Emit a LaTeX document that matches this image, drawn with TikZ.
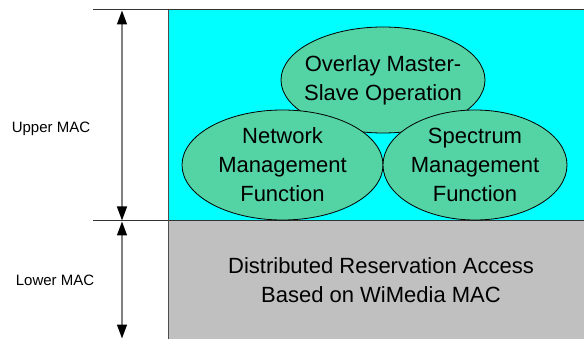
\documentclass[tikz,border=0pt]{standalone}
\usepackage{fontspec}
\setmainfont{Liberation Sans}
\usetikzlibrary{shapes.geometric,arrows.meta}
\definecolor{upcyan}{RGB}{0,255,255}
\definecolor{ovgreen}{RGB}{84,212,164}
\definecolor{lowgray}{RGB}{192,192,192}
\definecolor{shaftgray}{RGB}{128,128,128}
\tikzset{
  oval/.style={ellipse, draw=black, line width=0.8pt, fill=ovgreen, inner sep=0pt},
  ovaltext/.style={align=center, inner sep=0pt, font=\fontsize{22}{29}\selectfont},
  sidelabel/.style={font=\fontsize{15}{18}\selectfont, inner sep=0pt},
  dimarrow/.style={draw=shaftgray, line width=1.5pt,
    {Triangle[length=14pt,width=10pt,color=black]}-{Triangle[length=14pt,width=10pt,color=black]}},
  rule/.style={draw=black!80, line width=1pt},
}
\begin{document}
\begin{tikzpicture}[x=1pt,y=-1pt]
\useasboundingbox (0,0) rectangle (584,339);
% layers
\fill[upcyan] (168,10) rectangle (584,221);
\fill[lowgray] (168,221) rectangle (584,339);
\draw[rule] (93,10) -- (584,10);
\draw[rule] (93,221) -- (584,221);
\draw[draw=black!70, line width=1pt] (168,10) -- (168,339);
% ellipses
\node[oval, minimum width=204pt, minimum height=106pt] (ovl) at (383,80) {};
\node[ovaltext] (ovlt) at (ovl.center) {Overlay Master-\\Slave Operation};
\node[oval, minimum width=201pt, minimum height=110pt] (nmf) at (282.5,165) {};
\node[ovaltext] (nmft) at (nmf.center) {Network\\Management\\Function};
\node[oval, minimum width=184pt, minimum height=110pt] (smf) at (475,165) {};
\node[ovaltext] (smft) at (smf.center) {Spectrum\\Management\\Function};
% lower text
\node[ovaltext] (dra) at (381,280) {Distributed Reservation Access\\Based on WiMedia MAC};
% side labels
\node[sidelabel] (upl) at (51,129) {Upper MAC};
\node[sidelabel] (lowl) at (55,280) {Lower MAC};
% arrows
\coordinate (a1) at (122,10.5);
\coordinate (a2) at (122,220.5);
\coordinate (a3) at (122,221.5);
\coordinate (a4) at (122,338.5);
\draw[dimarrow] (a1) -- (a2);
\draw[dimarrow] (a3) -- (a4);
\end{tikzpicture}
\end{document}
